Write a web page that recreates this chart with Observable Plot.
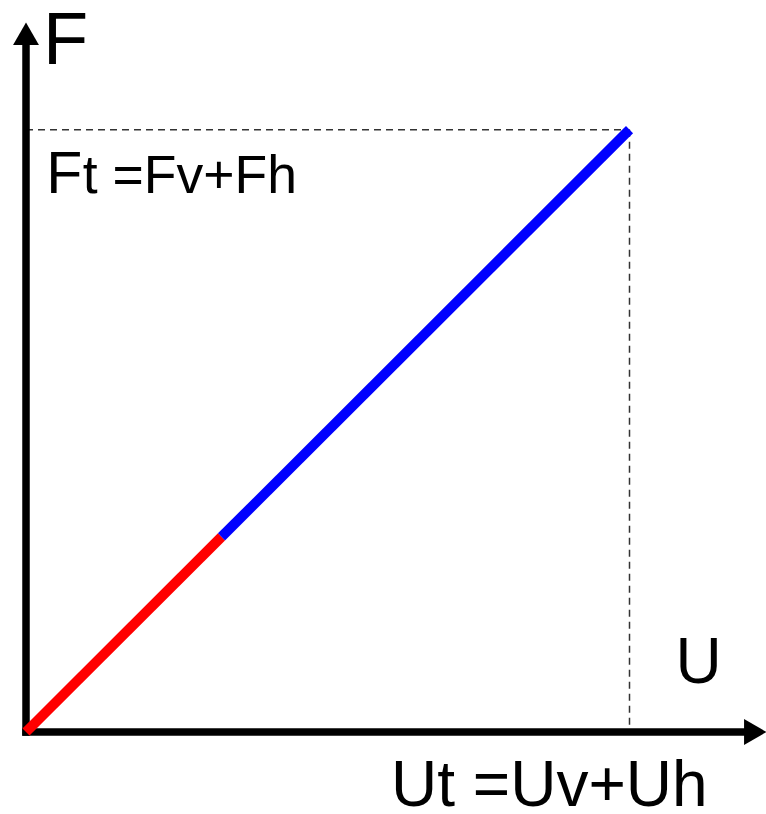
<!DOCTYPE html>
<html><head><meta charset="utf-8">
<script src="https://cdn.jsdelivr.net/npm/d3@7"></script>
<script src="https://cdn.jsdelivr.net/npm/@observablehq/plot@0.6"></script>
<style>html,body{margin:0;padding:0;background:#fff;} svg{display:block}</style>
</head><body><div id="chart"></div>
<script>
// Segment data (U = displacement, F = force)
const segmentColors = ["#ff0000", "#0000ff"];
const segmentU0 = [0, 26.4];
const segmentU1 = [26.4, 81.5];
const segmentF0 = [0, 27.5];
const segmentF1 = [27.5, 84.9];
const totalU = 81.5;
const totalF = 84.9;
const axisLineEnd = {x: 98.1, y: 96.6};
const axisTip = 100;

const segments = segmentColors.map((c, i) => ({
  u0: segmentU0[i], u1: segmentU1[i], f0: segmentF0[i], f1: segmentF1[i], color: c
}));
const guides = [
  {u0: 0, f0: totalF, u1: totalU, f1: totalF},
  {u0: totalU, f0: totalF, u1: totalU, f1: 0}
];

const font = "'Liberation Sans', Arial, sans-serif";

const chart = Plot.plot({
  width: 766,
  height: 814,
  marginLeft: 25.5,
  marginRight: 0,
  marginTop: 22,
  marginBottom: 82.5,
  style: {background: "#fff", fontFamily: font, overflow: "visible"},
  x: {domain: [0, 100], axis: null},
  y: {domain: [0, 100], axis: null},
  marks: [
    // dashed guides
    Plot.link(guides, {x1: "u0", y1: "f0", x2: "u1", y2: "f1", stroke: "#333", strokeWidth: 1.5, strokeDasharray: "7,5"}),
    // axes
    Plot.link([{x1: 0, y1: 0, x2: axisLineEnd.x, y2: 0}, {x1: 0, y1: 0, x2: 0, y2: axisLineEnd.y}],
      {x1: "x1", y1: "y1", x2: "x2", y2: "y2", stroke: "#000", strokeWidth: 7.5, strokeLinecap: "square"}),
    Plot.dot([{x: 0, y: axisTip}], {x: "x", y: "y", symbol: "triangle", r: 9.6, fill: "#000", stroke: null, dy: 15}),
    Plot.dot([{x: axisTip, y: 0}], {x: "x", y: "y", symbol: "triangle", r: 9.6, fill: "#000", stroke: null, dx: -15, rotate: 90}),
    // force-displacement line
    Plot.link(segments, {x1: "u0", y1: "f0", x2: "u1", y2: "f1", stroke: "color", strokeWidth: 10, strokeLinecap: "butt"}),
    // labels
    Plot.text(["F"], {x: 2.3, y: 94.2, text: d => d, textAnchor: "start", lineAnchor: "bottom", fontSize: 74, fill: "#000"}),
    Plot.text(["F"], {x: 2.75, y: 76.0, text: d => d, textAnchor: "start", lineAnchor: "bottom", fontSize: 59, fill: "#000"}),
    Plot.text(["t =Fv+Fh"], {x: 2.75, y: 76.0, dx: 36.5, text: d => d, textAnchor: "start", lineAnchor: "bottom", fontSize: 53.5, fill: "#000"}),
    Plot.text(["U"], {x: 87.7, y: 6.84, text: d => d, textAnchor: "start", lineAnchor: "bottom", fontSize: 64, fill: "#000"}),
    Plot.text(["Ut =Uv+Uh"], {x: 49.3, y: -10.36, text: d => d, textAnchor: "start", lineAnchor: "bottom", fontSize: 64, fill: "#000"})
  ]
});
document.getElementById("chart").appendChild(chart);
</script>
</body></html>
